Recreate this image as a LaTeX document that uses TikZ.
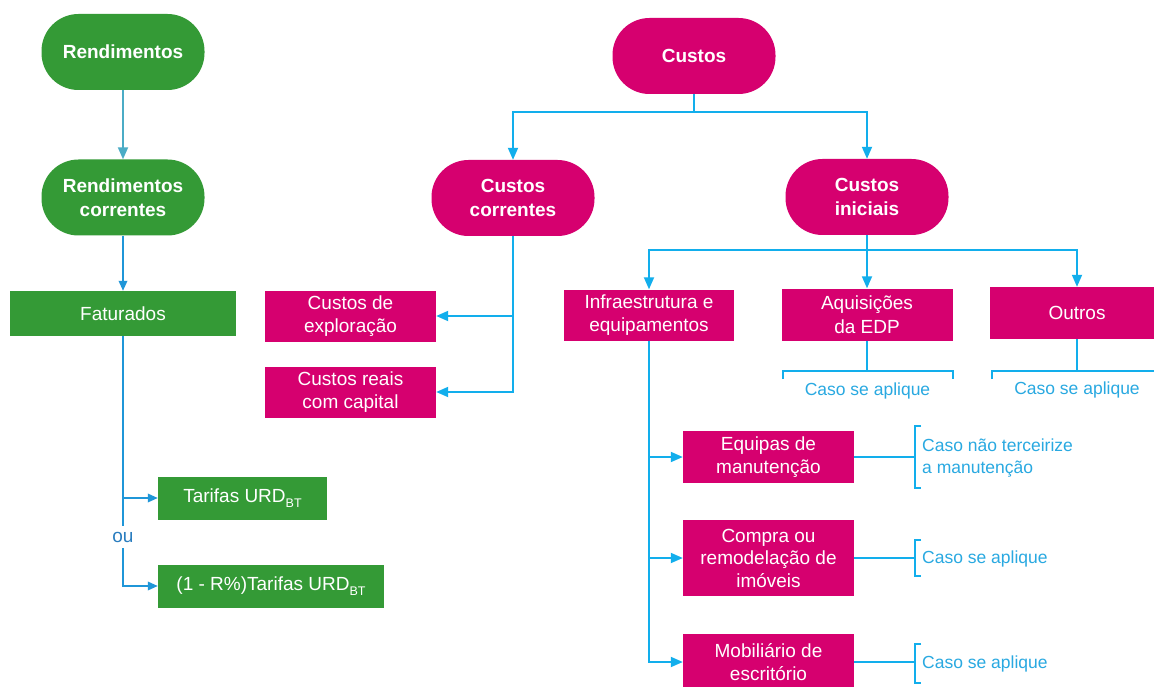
\documentclass[tikz,border=0pt]{standalone}
\usepackage{fontspec}
\setmainfont{Liberation Sans}
\usetikzlibrary{arrows.meta,calc}
\definecolor{gG}{HTML}{349A36}
\definecolor{pP}{HTML}{D6006F}
\definecolor{lC}{HTML}{12AEEC}
\definecolor{lB}{HTML}{1F96D8}
\definecolor{lT}{HTML}{4BACC6}
\definecolor{nC}{HTML}{29A9E1}
\definecolor{ouC}{HTML}{2A7DBF}
\newcommand\mysub[1]{\raisebox{-0.45ex}{\fontsize{12.5}{12.5}\selectfont #1}}
\tikzset{
  base/.style={align=center,text=white,inner sep=0pt,font=\fontsize{19}{23.5}\selectfont},
  pillG/.style={base,fill=gG,minimum width=163pt,minimum height=76pt,rounded corners=37pt,font=\bfseries\fontsize{19}{23.5}\selectfont},
  pillP/.style={pillG,fill=pP},
  boxG/.style={base,fill=gG},
  boxP/.style={base,fill=pP},
  lineC/.style={draw=lC,line width=1.8pt},
  arrC/.style={lineC,-{Triangle[length=12pt,width=10pt]}},
  lineB/.style={draw=lB,line width=1.8pt},
  arrB/.style={lineB,-{Triangle[length=10pt,width=8.5pt]}},
  arrT/.style={draw=lT,line width=1.8pt,-{Triangle[length=12pt,width=10pt]}},
  noteC/.style={text=nC,inner sep=0pt,align=left,font=\fontsize{17.5}{21.5}\selectfont},
}
\begin{document}
\begin{tikzpicture}[x=1pt,y=-1pt]
\useasboundingbox (0,0) rectangle (1154,687);
\fill[white] (0,0) rectangle (1154,687);
% ---------- green column
\node[pillG] (rend) at (123,52) {Rendimentos};
\node[pillG] (rendc) at (123,197.5) {Rendimentos\\correntes};
\node[boxG,minimum width=226pt,minimum height=45pt] (fat) at (123,313.5) {Faturados};
\node[boxG,minimum width=169pt,minimum height=43pt] (tar) at (242.5,498) {Tarifas URD\mysub{BT}};
\node[boxG,minimum width=226pt,minimum height=43pt] (tar2) at (271,586) {(1 - R\%)Tarifas URD\mysub{BT}};
\node[text=ouC,font=\fontsize{19}{23}\selectfont,inner sep=0pt,minimum height=22pt] (ou) at (123,537) {ou};
\draw[arrT] (rend) -- (rendc);
\draw[arrB] (rendc) -- (fat);
\draw[lineB] (fat.south) -- (ou.north);
\draw[arrB] (fat.south |- tar.west) -- (tar.west);
\draw[arrB] (ou.south) |- (tar2.west);
% ---------- pink top
\node[pillP] (cus) at (694,56) {Custos};
\node[pillP] (cc) at (513,198) {Custos\\correntes};
\node[pillP] (ci) at (867,197) {Custos\\iniciais};
\path (cus.south) ++(0,18) coordinate (cj);
\draw[lineC] (cus.south) -- (cj);
\draw[arrC] (cj) -| (cc.north);
\draw[arrC] (cj) -| (ci.north);
% custos correntes branch
\node[boxP,minimum width=171pt,minimum height=51pt] (expl) at (350.5,316) {Custos de\\exploração};
\node[boxP,minimum width=171pt,minimum height=51pt] (reais) at (350.5,392) {Custos reais\\com capital};
\draw[arrC] (cc.south) |- (expl.east);
\draw[arrC] (cc.south) |- (reais.east);
% custos iniciais branch
\node[boxP,minimum width=170pt,minimum height=51pt] (infra) at (649,315) {Infraestrutura e\\equipamentos};
\node[boxP,minimum width=171pt,minimum height=52pt] (aq) at (867,314.5) {Aquisições\\da EDP};
\node[boxP,minimum width=174pt,minimum height=52pt] (out) at (1077,313) {Outros};
\path (ci.south) ++(0,15) coordinate (cij);
\draw[arrC] (ci.south) -- (aq.north);
\draw[arrC] (cij) -| (infra.north);
\draw[arrC] (cij) -| (out.north);
% brackets under aquisições / outros
\draw[lineC] (aq.south) -- (aq.south |- 0,371);
\draw[lineC] (783,379) -- (783,371) -- (953,371) -- (953,379);
\node[noteC] (n1) at (867.5,391) {Caso se aplique};
\draw[lineC] (out.south) -- (out.south |- 0,371);
\draw[lineC] (992,379) -- (992,371) -- (1160,371);
\node[noteC] (n2) at (1077,390) {Caso se aplique};
% infra column
\node[boxP,minimum width=171pt,minimum height=52pt] (eq) at (768.5,457) {Equipas de\\manutenção};
\node[boxP,minimum width=171pt,minimum height=76pt,font=\fontsize{19}{22.5}\selectfont] (comp) at (768.5,558) {Compra ou\\remodelação de\\imóveis};
\node[boxP,minimum width=171pt,minimum height=56pt] (mob) at (768.5,662) {Mobiliário de\\escritório};
\draw[arrC] (infra.south) |- (eq.west);
\draw[arrC] (infra.south) |- (comp.west);
\draw[arrC] (infra.south) |- (mob.west);
% right brackets
\draw[lineC] (eq.east) -- (915,457);
\draw[lineC] (921,426) -- (915,426) -- (915,488) -- (921,488);
\node[noteC,anchor=west] (n3) at (922,458) {Caso não terceirize\\a manutenção};
\draw[lineC] (comp.east) -- (915,558);
\draw[lineC] (921,540) -- (915,540) -- (915,576) -- (921,576);
\node[noteC,anchor=west] (n4) at (922,559) {Caso se aplique};
\draw[lineC] (mob.east) -- (915,662);
\draw[lineC] (921,644) -- (915,644) -- (915,683) -- (921,683);
\node[noteC,anchor=west] (n5) at (922,663.5) {Caso se aplique};
\end{tikzpicture}
\end{document}
